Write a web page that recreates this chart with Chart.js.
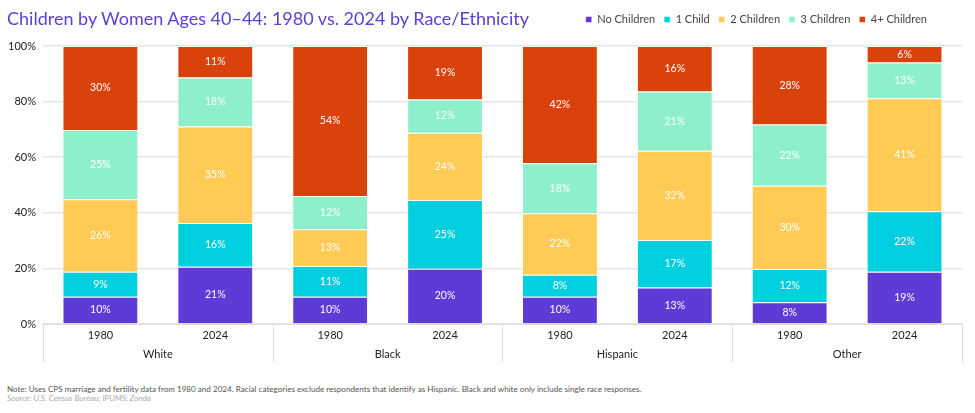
<!DOCTYPE html>
<html>
<head>
<meta charset="utf-8">
<script src="https://cdn.jsdelivr.net/npm/chart.js@4.4.1/dist/chart.umd.min.js"></script>
<style>
  body { margin: 0; background: #fff; }
  #wrap { position: relative; width: 975px; height: 413px; font-family: Lato, sans-serif; overflow: hidden; }
  #title { position: absolute; left: 7px; top: 7px; font-size: 18px; color: #5b3fd6; white-space: nowrap; }
  #chartBox { position: absolute; left: 0; top: 0; width: 975px; height: 364px; }
  #note { position: absolute; left: 7px; top: 384px; font-size: 8.1px; color: #555; white-space: nowrap; }
  #source { position: absolute; left: 7px; top: 393px; font-size: 8.1px; color: #aaa; font-style: italic; white-space: nowrap; }
</style>
</head>
<body>
<div id="wrap">
  <div id="chartBox"><canvas id="myChart"></canvas></div>
  <div id="title">Children by Women Ages 40–44: 1980 vs. 2024 by Race/Ethnicity</div>
  <div id="note">Note: Uses CPS marriage and fertility data from 1980 and 2024. Racial categories exclude respondents that identify as Hispanic. Black and white only include single race responses.</div>
  <div id="source">Source: U.S. Census Bureau; IPUMS; Zonda</div>
</div>
<script>
const groups = ["White", "Black", "Hispanic", "Other"];
const years = ["1980", "2024", "1980", "2024", "1980", "2024", "1980", "2024"];
const yTicks = [0, 20, 40, 60, 80, 100];

const noChildren = [9.8, 20.6, 9.8, 19.9, 9.8, 13.1, 7.8, 18.8];
const oneChild = [9.0, 15.7, 11.1, 24.7, 7.9, 17.1, 12.0, 21.8];
const twoChildren = [26.1, 34.7, 13.2, 24.2, 22.1, 32.1, 29.9, 40.6];
const threeChildren = [24.9, 17.7, 11.9, 12.0, 18.0, 21.3, 22.1, 12.9];
const fourPlus = [30.2, 11.3, 54.0, 19.2, 42.2, 16.4, 28.2, 5.9];

const fontFamily = "Lato, sans-serif";

// white % labels in the middle of each segment
const segmentLabels = {
  id: "segmentLabels",
  afterDatasetsDraw(chart) {
    const ctx = chart.ctx;
    ctx.save();
    ctx.fillStyle = "#fff";
    ctx.font = "10.5px " + fontFamily;
    ctx.textAlign = "center";
    ctx.textBaseline = "middle";
    chart.data.datasets.forEach((ds, i) => {
      chart.getDatasetMeta(i).data.forEach((bar, j) => {
        const p = bar.getCenterPoint();
        ctx.fillText(Math.round(ds.data[j]) + "%", p.x, p.y);
      });
    });
    ctx.restore();
  },
};

// legend sits on the title row, a bit in from the right edge
const legendSpot = {
  id: "legendSpot",
  afterLayout(chart) {
    const lg = chart.legend;
    lg.right = chart.chartArea.right - 26;
    lg.top -= 11;
    lg.bottom -= 11;
  },
};

// vertical separators between the race groups under the axis
const groupLines = {
  id: "groupLines",
  afterDraw(chart) {
    const x2 = chart.scales.x2;
    const half = (x2.getPixelForValue(1) - x2.getPixelForValue(0)) / 2;
    const ctx = chart.ctx;
    ctx.save();
    ctx.strokeStyle = "#dddddd";
    ctx.lineWidth = 1;
    for (let g = 0; g <= groups.length; g++) {
      const x = Math.round(x2.getPixelForValue(0) - half + g * half * 2) + 0.5;
      ctx.beginPath();
      ctx.moveTo(x, chart.chartArea.bottom);
      ctx.lineTo(x, x2.bottom);
      ctx.stroke();
    }
    ctx.restore();
  },
};

Chart.defaults.font.family = fontFamily;

new Chart("myChart", {
  type: "bar",
  data: {
    labels: years,
    datasets: [
      { label: "No Children", data: noChildren, backgroundColor: "#5e3bd6" },
      { label: "1 Child", data: oneChild, backgroundColor: "#00cfdf" },
      { label: "2 Children", data: twoChildren, backgroundColor: "#ffcb55" },
      { label: "3 Children", data: threeChildren, backgroundColor: "#8ef0cb" },
      { label: "4+ Children", data: fourPlus, backgroundColor: "#d9420b" },
    ],
  },
  options: {
    responsive: true,
    maintainAspectRatio: false,
    animation: false,
    layout: { padding: { top: 16, right: 13, left: 1, bottom: 2 } },
    datasets: {
      bar: {
        categoryPercentage: 1,
        barPercentage: 0.66,
        borderColor: "rgba(255,255,255,0.45)",
        borderWidth: 1,
      },
    },
    plugins: {
      legend: {
        position: "top",
        align: "end",
        labels: {
          boxWidth: 6,
          boxHeight: 6,
          padding: 9,
          color: "#444",
          font: { size: 11 },
        },
      },
      tooltip: { enabled: false },
    },
    scales: {
      x: {
        stacked: true,
        grid: { display: false, drawTicks: false },
        border: { display: true, color: "#dddddd" },
        ticks: { color: "#222", font: { size: 11 }, padding: 4.5 },
      },
      x2: {
        type: "category",
        labels: groups,
        position: "bottom",
        grid: { display: false, drawTicks: false },
        border: { display: false },
        ticks: { color: "#222", font: { size: 11 }, padding: 1.3 },
      },
      y: {
        stacked: true,
        min: 0,
        max: 100,
        afterBuildTicks: (axis) => {
          axis.ticks = yTicks.map((v) => ({ value: v }));
        },
        grid: { color: "#e6e6e6", lineWidth: 1.5, drawTicks: false },
        border: { display: false },
        ticks: {
          color: "#222",
          font: { size: 11 },
          padding: 7,
          callback: (v) => v + "%",
        },
      },
    },
  },
  plugins: [segmentLabels, legendSpot, groupLines],
});
</script>
</body>
</html>
